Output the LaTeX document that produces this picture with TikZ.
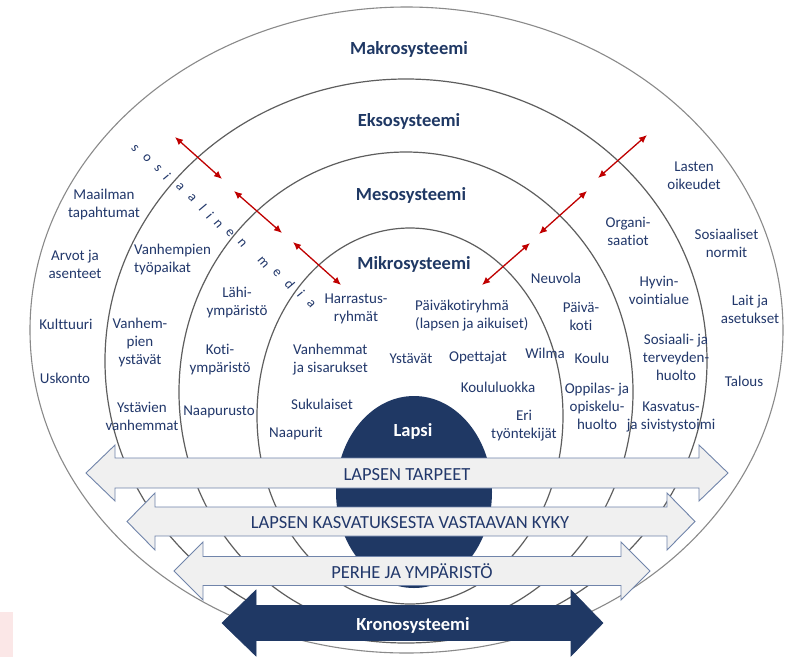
\documentclass[tikz,border=0pt]{standalone}
\usepackage{fontspec}
\setmainfont{Carlito}[Ligatures={NoCommon}]
\usetikzlibrary{arrows.meta}
\definecolor{navy}{HTML}{1F3864}
\definecolor{txt}{HTML}{22386B}
\definecolor{ringgray}{HTML}{5E5E5E}
\definecolor{outergray}{HTML}{8A8A8A}
\definecolor{arrowfill}{HTML}{F0F0F0}
\definecolor{arrowedge}{HTML}{7084AA}
\definecolor{redarrow}{HTML}{C00000}
\definecolor{pinkstrip}{HTML}{FBE7E7}
\begin{document}
\begin{tikzpicture}[x=1pt,y=-1pt,
  ring/.style={draw=ringgray, line width=1.2pt},
  outerring/.style={draw=outergray, line width=1.1pt},
  title/.style={text=navy, font=\fontsize{18.5}{22}\selectfont\bfseries, inner sep=0pt, anchor=base},
  lbl/.style={text=txt, font=\fontsize{15}{18}\selectfont, align=center, inner sep=0pt},
  lbll/.style={lbl, align=left, anchor=west},
  blockarrow/.style={fill=arrowfill, draw=arrowedge, line width=0.9pt, line join=miter},
  darkarrow/.style={fill=navy, draw=navy, line width=0.6pt},
  band/.style={text=txt, font=\fontsize{18.5}{22}\selectfont, inner sep=0pt, anchor=base},
  whitebold/.style={text=white, font=\fontsize{18.5}{22}\selectfont\bfseries, inner sep=0pt, anchor=base},
  redarr/.style={draw=redarrow, line width=1.3pt, {Latex[length=8pt,width=7pt]}-{Latex[length=8pt,width=7pt]}},
  smletter/.style={text=txt, font=\fontsize{14}{14}\selectfont, inner sep=0pt, rotate=-50},
]
\useasboundingbox (0,0) rectangle (795,657);
\fill[white] (0,0) rectangle (795,657);
\fill[pinkstrip] (0,612) rectangle (13,657);

% nested systems
\draw[outerring] (406.5,330) ellipse [x radius=376.5pt, y radius=323pt];
\draw[ring] (406,361) ellipse [x radius=301pt, y radius=282pt];
\draw[ring] (406,392) ellipse [x radius=227pt, y radius=240pt];
\draw[ring] (410,416) ellipse [x radius=153pt, y radius=188pt];
\fill[navy] (414,492) ellipse [x radius=78pt, y radius=96pt];

% titles
\node[title] (makro) at (409,54) {Makrosysteemi};
\node[title] (ekso) at (409,126) {Eksosysteemi};
\node[title] (meso) at (411,200) {Mesosysteemi};
\node[title] (mikro) at (414,269) {Mikrosysteemi};
\node[whitebold] (lapsi) at (413,436) {Lapsi};

% social media
\foreach \ch/\px/\py [count=\k] in {s/135/148,o/147/158,s/158/168,i/167/177,a/180/187,a/192/198,l/203/208,i/210/216,n/218/224,e/230/233,n/242/243,m/263/263,e/277/273,d/290/284,i/301/294,a/311/304}
  \node[smletter] (sm\k) at (\px,\py) {\ch};

% red arrows
\coordinate (l1a) at (175,137); \coordinate (l1b) at (222,179);
\coordinate (l2a) at (234,191); \coordinate (l2b) at (282,233);
\coordinate (l3a) at (293,242); \coordinate (l3b) at (341,285);
\coordinate (r1a) at (647,135); \coordinate (r1b) at (598,178);
\coordinate (r2a) at (587,191); \coordinate (r2b) at (539,234);
\coordinate (r3a) at (530,243); \coordinate (r3b) at (482,285);
\draw[redarr] (l1a) -- (l1b);
\draw[redarr] (l2a) -- (l2b);
\draw[redarr] (l3a) -- (l3b);
\draw[redarr] (r1a) -- (r1b);
\draw[redarr] (r2a) -- (r2b);
\draw[redarr] (r3a) -- (r3b);

% Makro texts
\node[lbl] (maailman) at (104,204) {Maailman\\tapahtumat};
\node[lbl] (arvot) at (75,264.5) {Arvot ja\\asenteet};
\node[lbl] (kulttuuri) at (66,324) {Kulttuuri};
\node[lbl] (uskonto) at (65,378) {Uskonto};
\node[lbl] (lasten) at (694,175.5) {Lasten\\oikeudet};
\node[lbl] (normit) at (726.5,243.5) {Sosiaaliset\\normit};
\node[lbl] (lait) at (750,309.5) {Lait ja\\asetukset};
\node[lbl] (talous) at (744,381) {Talous};

% Ekso texts
\node[lbll] (tyopaikat) at (134,259.5) {Vanhempien\\työpaikat};
\node[lbl] (vystavat) at (140,342) {Vanhem-\\pien\\ystävät};
\node[lbl] (yvanh) at (142,416) {Ystävien\\vanhemmat};
\node[lbl] (organi) at (628,231) {Organi-\\saatiot};
\node[lbl] (hyvin) at (659,290.5) {Hyvin-\\vointialue};
\node[lbl] (sote) at (676,357) {Sosiaali- ja\\terveyden-\\huolto};
\node[lbl] (kasvatus) at (671,417) {Kasvatus-\\ja sivistystoimi};

% Meso texts
\node[lbl] (lahi) at (237,302.5) {Lähi-\\ympäristö};
\node[lbl] (koti) at (220,359.5) {Koti-\\ympäristö};
\node[lbl] (naapurusto) at (219,412) {Naapurusto};
\node[lbl] (neuvola) at (556,278) {Neuvola};
\node[lbl] (paivakoti) at (581,316.5) {Päivä-\\koti};
\node[lbl] (koulu) at (592,358) {Koulu};
\node[lbl] (oppilas) at (597,406) {Oppilas- ja\\opiskelu-\\huolto};

% Mikro texts
\node[lbl] (harrastus) at (356,309) {Harrastus-\\ryhmät};
\node[lbll] (vanhemmat) at (293,360) {Vanhemmat\\ja sisarukset};
\node[lbl] (sukulaiset) at (322,404) {Sukulaiset};
\node[lbl] (naapurit) at (296,434) {Naapurit};
\node[lbl] (ystavat) at (411,359) {Ystävät};
\node[lbll] (pkryhma) at (415,316) {Päiväkotiryhmä\\(lapsen ja aikuiset)};
\node[lbl] (opettajat) at (478,358) {Opettajat};
\node[lbl] (wilma) at (545,353) {Wilma};
\node[lbl] (luokka) at (498,387) {Koululuokka};
\node[lbl] (eri) at (524,426) {Eri\\työntekijät};

% block arrows
\draw[blockarrow] (86,473) -- (115,445) -- (115,458) -- (699,458) -- (699,445) -- (728,473)
  -- (699,501) -- (699,488) -- (115,488) -- (115,501) -- cycle;
\node[band] (tarpeet) at (407,480) {LAPSEN TARPEET};
\draw[blockarrow] (127,521.5) -- (155,493) -- (155,507) -- (667,507) -- (667,493) -- (695,521.5)
  -- (667,550) -- (667,536) -- (155,536) -- (155,550) -- cycle;
\node[band] (kyky) at (410,528) {LAPSEN KASVATUKSESTA VASTAAVAN KYKY};
\draw[blockarrow] (174,571) -- (203,542) -- (203,556.5) -- (621,556.5) -- (621,542) -- (650,571)
  -- (621,600) -- (621,585.5) -- (203,585.5) -- (203,600) -- cycle;
\node[band] (perhe) at (412,578) {PERHE JA YMPÄRISTÖ};
\draw[darkarrow] (222,623) -- (256,590) -- (256,605.5) -- (571,605.5) -- (571,590) -- (603,623)
  -- (571,656) -- (571,640.5) -- (256,640.5) -- (256,656) -- cycle;
\node[whitebold] (krono) at (413,630) {Kronosysteemi};
\end{tikzpicture}
\end{document}
